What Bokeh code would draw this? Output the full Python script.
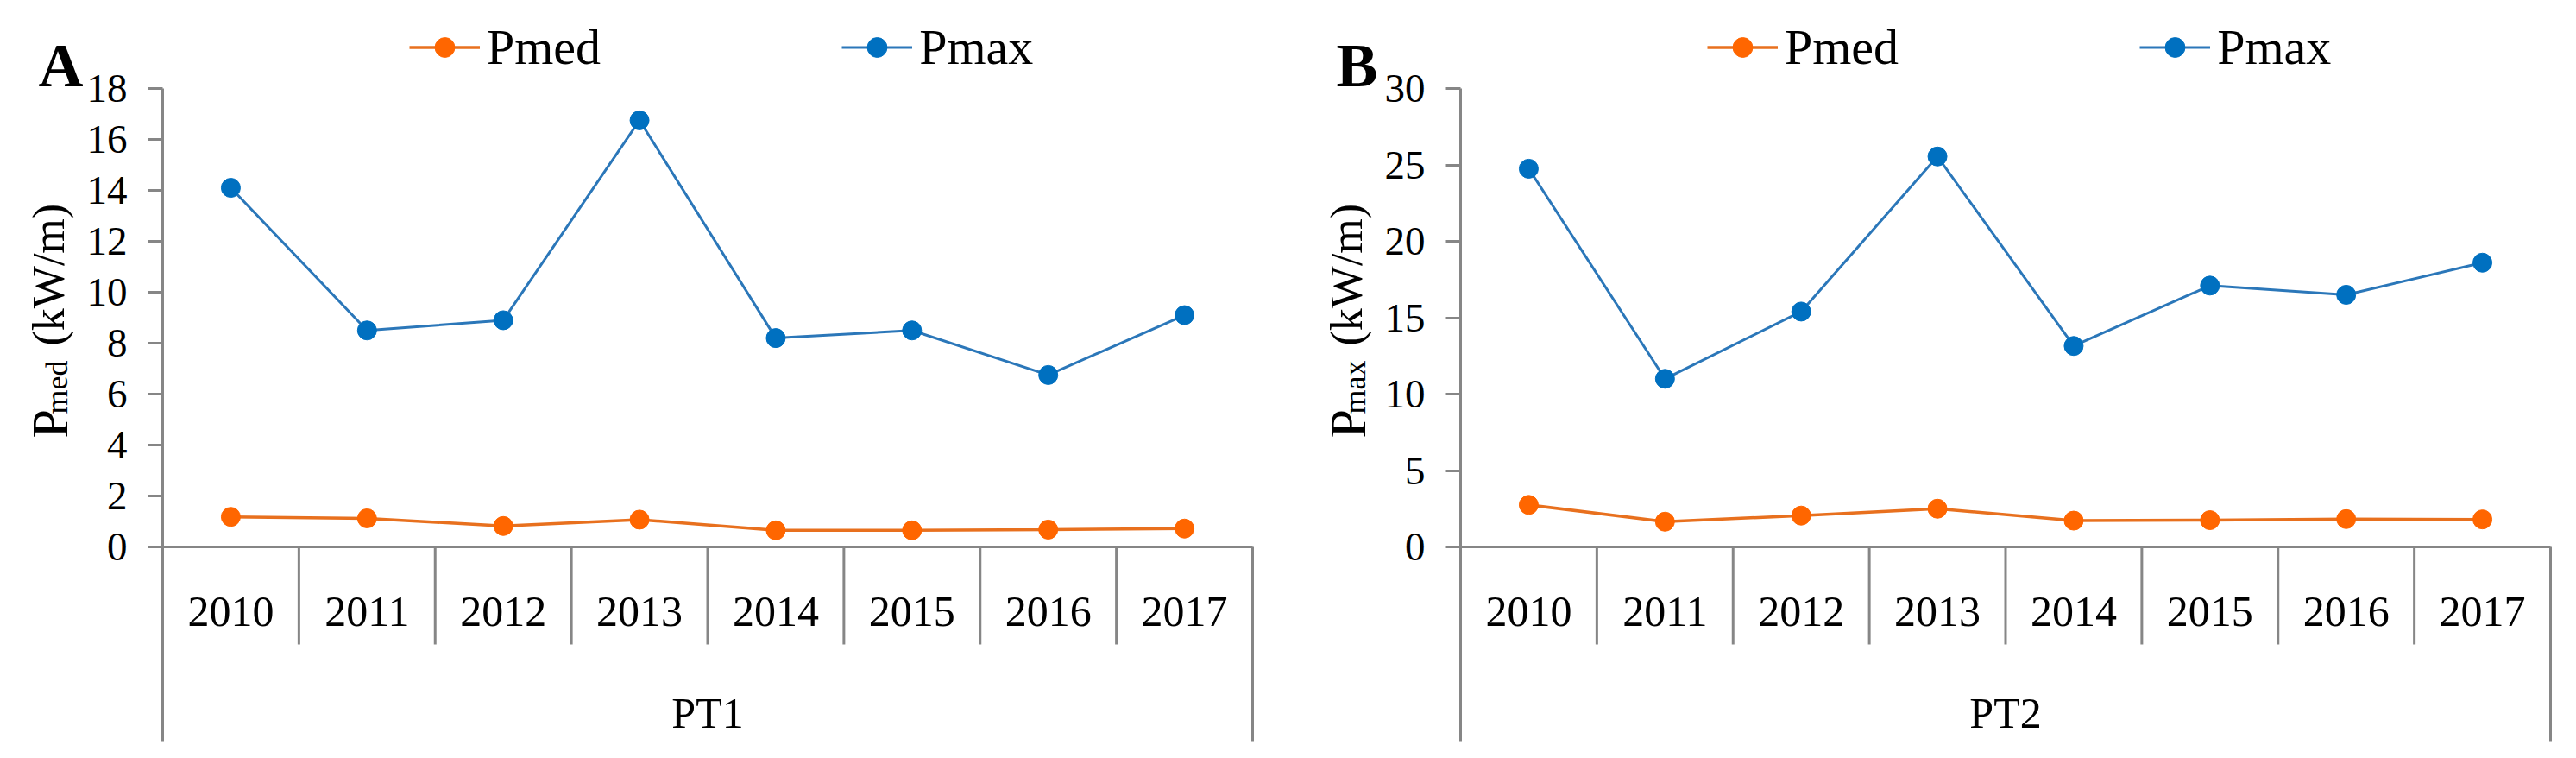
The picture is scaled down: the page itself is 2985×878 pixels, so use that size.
import math
from bokeh.plotting import figure
from bokeh.models import Range1d, FixedTicker, Label, Legend, LegendItem
from bokeh.layouts import row
from bokeh.core.properties import value
from bokeh.embed import file_html
from bokeh.resources import INLINE

# ---------------- data ----------------
years = ["2010", "2011", "2012", "2013", "2014", "2015", "2016", "2017"]

pt1_pmed = [1.18, 1.12, 0.82, 1.07, 0.65, 0.65, 0.68, 0.72]
pt1_pmax = [14.1, 8.5, 8.9, 16.75, 8.2, 8.5, 6.75, 9.1]

pt2_pmed = [2.75, 1.65, 2.05, 2.5, 1.72, 1.75, 1.82, 1.8]
pt2_pmax = [24.75, 11.0, 15.4, 25.55, 13.15, 17.1, 16.5, 18.6]

panel_letters = ["A", "B"]
group_labels = ["PT1", "PT2"]
label_subscripts = ["med", "max"]
y_maxima = [18, 30]
y_steps = [2, 5]
series_names = ["Pmed", "Pmax"]

# ---------------- style / layout ----------------
FONT = "Liberation Serif"
AXIS = "#868686"
ORANGE_LINE = "#E8701E"
ORANGE_MARK = "#FF6600"
BLUE_LINE = "#2B77B9"
BLUE_MARK = "#0070C0"

H = 860              # canvas height (page y 8 .. 868)
TOP_PX = 102         # canvas px from top to the y maximum
ZERO_PX = 633        # canvas px from top to the zero line
BOX_PX = 858         # canvas px from top to the bottom of the category box
SEP_PX = 746         # canvas px from top to the bottom of year separators
YEAR_PX = 708        # canvas px of year-label centre
GROUP_PX = 825       # canvas px of group-label centre
PLOT_W = 1263        # width of the category area


def make_panel(idx, pmed, pmax, left_px, right_px):
    n = len(years)
    ymax = y_maxima[idx]
    ppu = (ZERO_PX - TOP_PX) / ymax
    ppx = PLOT_W / n
    y0 = -(H - ZERO_PX) / ppu
    y1 = ymax + TOP_PX / ppu
    x0 = -left_px / ppx
    x1 = n + right_px / ppx

    def ydat(px):
        return (ZERO_PX - px) / ppu

    p = figure(width=left_px + PLOT_W + right_px, height=H,
               x_range=Range1d(x0, x1), y_range=Range1d(y0, y1),
               x_axis_location=None, output_backend="svg",
               toolbar_location=None, title=None,
               min_border_left=0, min_border_right=0,
               min_border_top=0, min_border_bottom=0)
    p.grid.visible = False
    p.outline_line_color = None
    p.background_fill_color = "white"

    xs = [i + 0.5 for i in range(n)]

    ax = p.yaxis[0]
    ax.fixed_location = 0
    ax.ticker = FixedTicker(ticks=list(range(0, ymax + 1, y_steps[idx])))
    ax.axis_line_color = None
    ax.major_tick_line_color = AXIS
    ax.major_tick_line_width = 3
    ax.major_tick_out = 17
    ax.major_tick_in = 0
    ax.minor_tick_line_color = None
    ax.major_label_text_font = FONT
    ax.major_label_text_font_size = "47px"
    ax.major_label_text_color = "black"
    ax.major_label_standoff = 24

    box_bottom = ydat(BOX_PX)
    sep_bottom = ydat(SEP_PX)
    # value axis line (continues down as the left edge of the category box)
    p.segment(x0=[0], y0=[box_bottom], x1=[0], y1=[ymax], line_color=AXIS, line_width=3)
    # category axis line
    p.segment(x0=[0], y0=[0], x1=[n], y1=[0], line_color=AXIS, line_width=3)
    # separators between years
    seps = list(range(1, n))
    p.segment(x0=seps, y0=[0] * len(seps), x1=seps, y1=[sep_bottom] * len(seps),
              line_color=AXIS, line_width=3)
    # right edge of the group box
    p.segment(x0=[n], y0=[0], x1=[n], y1=[box_bottom], line_color=AXIS, line_width=3)

    p.text(x=xs, y=[ydat(YEAR_PX)] * n, text=years, text_align="center",
           text_baseline="middle", text_font=value(FONT), text_font_size="50px",
           text_color="black")
    p.text(x=[n / 2], y=[ydat(GROUP_PX)], text=[group_labels[idx]], text_align="center",
           text_baseline="middle", text_font=value(FONT), text_font_size="50px",
           text_color="black")

    # series
    l1 = p.line(xs, pmed, line_color=ORANGE_LINE, line_width=3.5)
    s1 = p.scatter(xs, pmed, size=22, fill_color=ORANGE_MARK, line_color=ORANGE_MARK)
    l2 = p.line(xs, pmax, line_color=BLUE_LINE, line_width=3)
    s2 = p.scatter(xs, pmax, size=22, fill_color=BLUE_MARK, line_color=BLUE_MARK)

    legend = Legend(items=[LegendItem(label=series_names[0], renderers=[l1, s1]),
                           LegendItem(label=series_names[1], renderers=[l2, s2])],
                    orientation="horizontal", location=(left_px + 286, H - 88),
                    glyph_width=82, glyph_height=57, label_height=57,
                    label_standoff=8, spacing=279, padding=0, margin=0,
                    border_line_color=None, background_fill_alpha=0,
                    label_text_font=FONT, label_text_font_size="58px",
                    label_text_color="black")
    p.add_layout(legend)

    # panel letter
    p.add_layout(Label(x=left_px - 144, y=H - 75, x_units="screen", y_units="screen",
                       text=panel_letters[idx], text_font=FONT, text_font_size="72px",
                       text_font_style="bold", text_color="black",
                       text_align="left", text_baseline="alphabetic"))
    # y-axis title: P_sub (kW/m)
    ang = math.pi / 2
    p.add_layout(Label(x=left_px - 131, y=H - 507, x_units="screen", y_units="screen",
                       angle=ang, text="P", text_font=FONT, text_font_size="60px",
                       text_color="black", text_align="left", text_baseline="alphabetic"))
    p.add_layout(Label(x=left_px - 123, y=H - 479, x_units="screen", y_units="screen",
                       angle=ang, text=label_subscripts[idx], text_font=FONT,
                       text_font_size="36px", text_color="black",
                       text_align="left", text_baseline="alphabetic"))
    p.add_layout(Label(x=left_px - 132, y=H - 400, x_units="screen", y_units="screen",
                       angle=ang, text="(kW/m)", text_font=FONT, text_font_size="52px",
                       text_color="black", text_align="left", text_baseline="alphabetic"))
    return p


p1 = make_panel(0, pt1_pmed, pt1_pmax, 188, 40)
p2 = make_panel(1, pt2_pmed, pt2_pmax, 201, 14)
layout = row(p1, p2)

open("out.html", "w").write(file_html(layout, INLINE))
